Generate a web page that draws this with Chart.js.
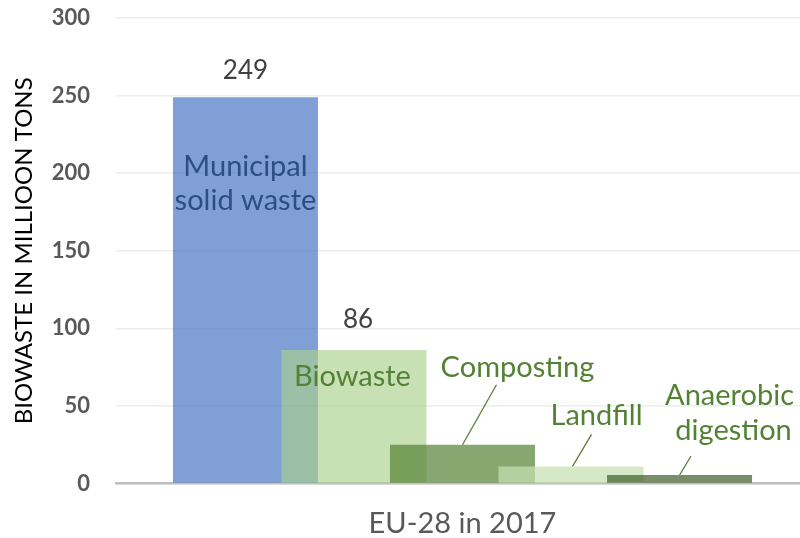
<!DOCTYPE html>
<html>
<head>
<meta charset="utf-8">
<script src="https://cdn.jsdelivr.net/npm/chart.js@4/dist/chart.umd.min.js"></script>
<style>
  html, body { margin: 0; padding: 0; background: #ffffff; overflow: hidden; }
  #wrap { width: 812px; height: 538px; }
</style>
</head>
<body>
<div id="wrap"><canvas id="c" width="812" height="538"></canvas></div>
<script>
// ---- data ----
const categories = ['EU-28 in 2017'];
const seriesNames = ['Municipal solid waste', 'Biowaste', 'Composting', 'Landfill', 'Anaerobic digestion'];
const seriesValues = [249, 86, 25, 11, 5.5];
const yTicks = [0, 50, 100, 150, 200, 250, 300];
const yTitle = 'BIOWASTE IN MILLIOON TONS';

// ---- styles ----
const FONT = 'Lato, "Open Sans", "Noto Sans", sans-serif';
const fills = [
  'rgba(68,114,196,0.68)',
  'rgba(169,209,142,0.65)',
  'rgba(84,130,53,0.70)',
  'rgba(197,224,180,0.72)',
  'rgba(56,87,35,0.68)'
];

// label placement relative to each bar (offsets in px from bar top-centre)
const labelCfg = [
  { value: true, vdx: 0, vdy: -18, lines: ['Municipal', 'solid waste'], color: '#2b4f80', dx: 0, dy: 79, lh: 34 },
  { value: true, vdx: 4, vdy: -22, lines: ['Biowaste'], color: '#548235', dx: -1.5, dy: 36, lh: 34 },
  { value: false, lines: ['Composting'], color: '#548235', dx: 55, dy: -68, lh: 34, leader: [34, -60, 0, 0] },
  { value: false, lines: ['Landfill'], color: '#548235', dx: 25.5, dy: -41, lh: 34, leader: [20.5, -32, 1.5, 0] },
  { value: false, lines: ['Anaerobic', 'digestion'], color: '#548235', dx: 50, dy: -70, lh: 35, lineDx: [0, 4], leader: [11.5, -19, 0, 0] }
];

// draw datasets left to right so that later series sit on top (as in the original)
const drawOrderPlugin = {
  id: 'drawOrder',
  beforeDatasetsDraw(chart) {
    const metas = chart.getSortedVisibleDatasetMetas();
    metas.forEach(m => m.controller.draw());
    return false;
  }
};

const labelPlugin = {
  id: 'barLabels',
  afterDraw(chart) {
    const ctx = chart.ctx;
    ctx.save();
    chart.data.datasets.forEach((ds, i) => {
      const el = chart.getDatasetMeta(i).data[0];
      if (!el) return;
      const cfg = labelCfg[i];
      const x = el.x, y = el.y;
      ctx.textAlign = 'center';
      ctx.textBaseline = 'alphabetic';
      if (cfg.value) {
        ctx.font = '26px ' + FONT;
        ctx.fillStyle = '#404040';
        ctx.fillText(String(ds.data[0]), x + cfg.vdx, y + cfg.vdy);
      }
      if (cfg.leader) {
        const [sx, sy, ex, ey] = cfg.leader;
        ctx.strokeStyle = '#548235';
        ctx.lineWidth = 1.3;
        ctx.beginPath();
        ctx.moveTo(x + sx, y + sy);
        ctx.lineTo(x + ex, y + ey);
        ctx.stroke();
      }
      ctx.font = '29px ' + FONT;
      ctx.fillStyle = cfg.color;
      cfg.lines.forEach((t, k) => {
        const ldx = cfg.lineDx ? cfg.lineDx[k] : 0;
        ctx.fillText(t, x + cfg.dx + ldx, y + cfg.dy + k * cfg.lh);
      });
    });
    ctx.restore();
  }
};

new Chart(document.getElementById('c'), {
  type: 'bar',
  data: {
    labels: categories,
    datasets: seriesNames.map((name, i) => ({
      label: name,
      data: [seriesValues[i]],
      backgroundColor: fills[i],
      borderWidth: 0,
      barPercentage: 1.336,
      categoryPercentage: 0.783
    }))
  },
  options: {
    responsive: false,
    animation: false,
    layout: { padding: { top: 18, right: 3, left: 0, bottom: 0 } },
    plugins: { legend: { display: false }, tooltip: { enabled: false } },
    scales: {
      x: {
        grid: { display: false, drawTicks: false },
        border: { display: true, color: '#bfbfbf', width: 2.5 },
        ticks: { font: { family: FONT, size: 29 }, color: '#595959', padding: 23, maxRotation: 0 },
        afterFit(s) { s.height = 54.5; s.paddingLeft = 0; s.paddingRight = 0; }
      },
      y: {
        min: yTicks[0],
        max: yTicks[yTicks.length - 1],
        afterBuildTicks(s) { s.ticks = yTicks.map(v => ({ value: v })); },
        ticks: { font: { family: FONT, size: 22, weight: 'bold' }, color: '#595959', padding: 26 },
        grid: { color: '#ececec', lineWidth: 1.5, drawTicks: false },
        border: { display: false },
        title: { display: true, text: yTitle, font: { family: FONT, size: 24 }, color: '#000000', padding: { top: 10, bottom: 0 } },
        afterFit(s) { s.width = 116; s.paddingTop = 0; s.paddingBottom = 0; }
      }
    }
  },
  plugins: [drawOrderPlugin, labelPlugin]
});
</script>
</body>
</html>
